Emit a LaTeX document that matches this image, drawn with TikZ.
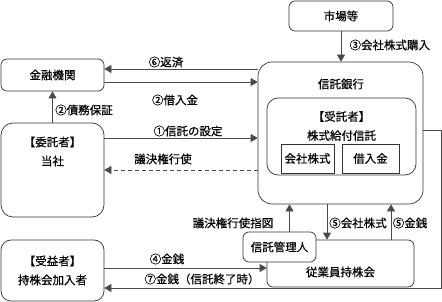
\documentclass[tikz,border=0pt]{standalone}
\usepackage{fontspec}
\setmainfont{Noto Sans CJK JP}[FakeBold=0.4]
\usetikzlibrary{arrows.meta, positioning}
\definecolor{boxborder}{HTML}{333333}
\definecolor{arrowline}{HTML}{4A4A4A}

\begin{document}
\begin{tikzpicture}[x=1pt, y=-1pt,
    mainbox/.style={rectangle, rounded corners=6pt, draw=boxborder, fill=white, line width=0.7pt, align=center, inner sep=0pt},
    bigbox/.style={mainbox, rounded corners=14pt},
    plainbox/.style={rectangle, draw=boxborder, fill=white, line width=0.7pt, inner sep=0pt},
    flow/.style={draw=arrowline, line width=0.7pt, -{Triangle[length=7pt, width=8pt]}},
    every node/.style={font=\fontsize{11.5}{19}\selectfont, align=center}
]
\useasboundingbox (0,0) rectangle (442,302);

% Top box
\node[mainbox, minimum width=104pt, minimum height=30pt] (market) at (341,16) {市場等};

% Trust bank
\node[bigbox, minimum width=165pt, minimum height=142pt] (bank) at (340.5,133) {};
\node (banktitle) at (341,84) {信託銀行};
\node[mainbox, rounded corners=11pt, minimum width=149pt, minimum height=77pt] (trustee) at (341.5,136.5) {};
\node (trusteetitle) at (341.5,126) {【受託者】\\株式給付信託};
\node[plainbox, minimum width=53pt, minimum height=29pt] (stock) at (307.5,158.5) {会社株式};
\node[plainbox, minimum width=57pt, minimum height=29pt] (loan) at (370.5,158.5) {借入金};

% Left column
\node[mainbox, minimum width=103pt, minimum height=32pt] (fin) at (52.5,75) {金融機関};
\node[mainbox, rounded corners=12pt, minimum width=103pt, minimum height=94pt] (entrustor) at (52.5,170) {};
\node (entrustortitle) at (52.5,151.5) {【委託者】\\当社};
\node[mainbox, rounded corners=10pt, minimum width=103pt, minimum height=61pt] (beneficiary) at (52.5,270.5) {【受益者】\\持株会加入者};

% Bottom right
\node[mainbox, minimum width=147pt, minimum height=47pt] (esop) at (340.5,263.5) {};
\node (esoptitle) at (340.5,272) {従業員持株会};
\node[mainbox, minimum width=73pt, minimum height=30pt] (admin) at (279.5,247) {信託管理人};

% Connecting arrows
\draw[flow] (market) -- (market |- bank.north);
\draw[flow] ([yshift=6pt]fin.east -| bank.west) -- ([yshift=6pt]fin.east);
\draw[flow] ([yshift=-7pt]fin.east) -- ([yshift=-7pt]fin.east -| bank.west);
\draw[flow] (entrustor.north) -- (fin.south);
\draw[flow] ([yshift=32pt]entrustor.east) -- ([yshift=32pt]entrustor.east -| bank.west);
\draw[flow, dash pattern=on 4pt off 3pt] (entrustor.east -| bank.west) -- (entrustor.east);
\draw[flow] ([xshift=10pt]admin.north) -- ([xshift=10pt]admin.north |- bank.south);
\draw[flow] ([xshift=-13.5pt]esop.north |- bank.south) -- ([xshift=-13.5pt]esop.north);
\draw[flow] ([xshift=50.5pt]esop.north) -- ([xshift=50.5pt]esop.north |- bank.south);
\draw[flow] ([yshift=2.5pt]beneficiary.east) -- ([yshift=2.5pt]beneficiary.east -| esop.west);
\draw[flow] ([yshift=3pt]bank.east) -- ++(18,0) |- ([yshift=-17.5pt]beneficiary.east);

% Arrow labels
\node[anchor=west] (buylbl) at (346,45) {③会社株式購入};
\node (repaylbl) at (166,62) {⑥返済};
\node (loanlbl) at (175,100) {②借入金};
\node (guaranteelbl) at (84,110) {②債務保証};
\node (settinglbl) at (188,131) {①信託の設定};
\node (votelbl) at (163,159) {議決権行使};
\node (instructlbl) at (233,223) {議決権行使指図};
\node (sharelbl) at (358,223) {⑤会社株式};
\node (cashlbl) at (410,223) {⑤金銭};
\node (moneylbl) at (167,259) {④金銭};
\node (endlbl) at (202,279) {⑦金銭（信託終了時）};

\end{tikzpicture}
\end{document}
